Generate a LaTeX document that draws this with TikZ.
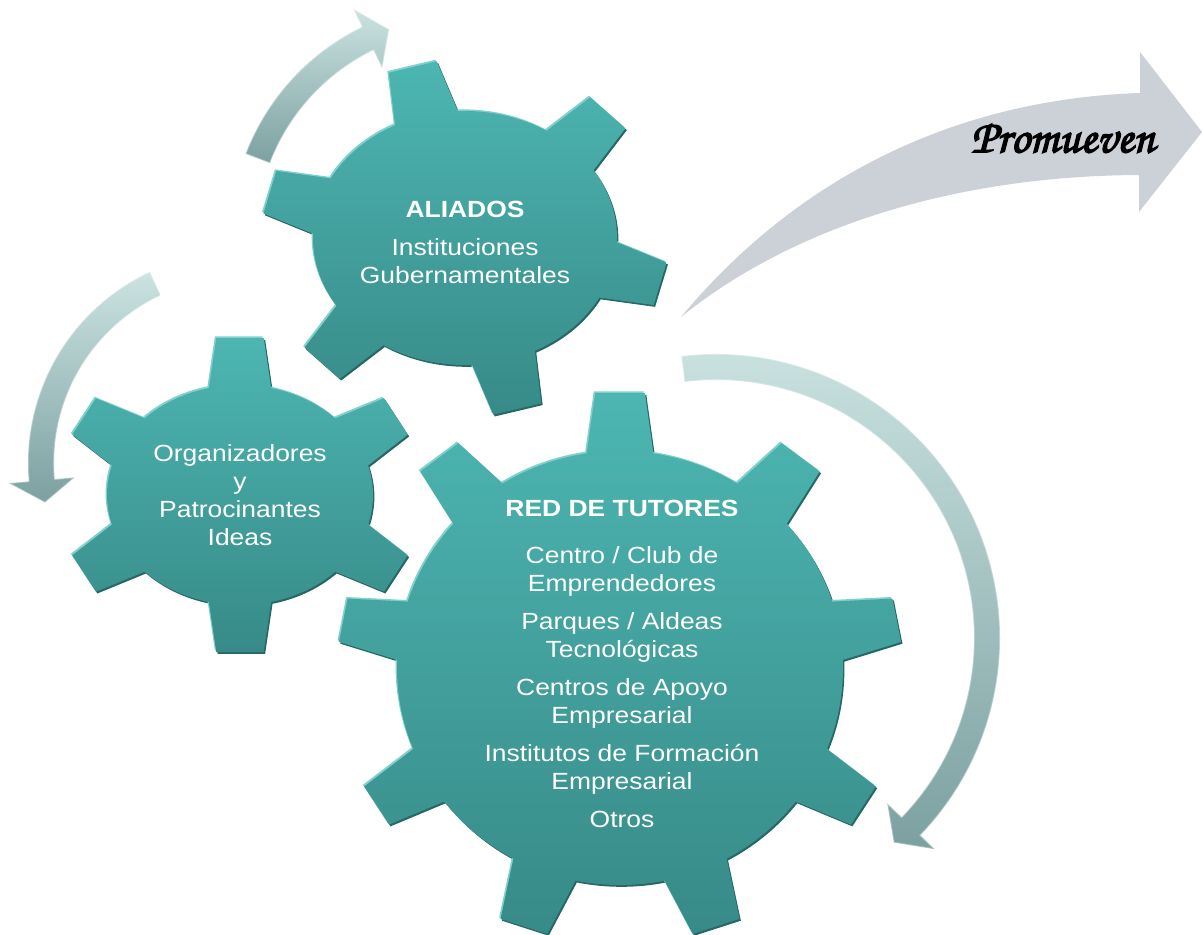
\documentclass[tikz,border=0pt]{standalone}
\usepackage{fontspec}
\setmainfont{Liberation Sans}[FakeStretch=1.13]
\usepackage{tikz}
\usetikzlibrary{calc,positioning}
\definecolor{gearlight}{RGB}{77,182,178}
\definecolor{geardark}{RGB}{55,138,135}
\definecolor{gearrim}{RGB}{128,208,204}
\definecolor{gearshadow}{RGB}{38,104,102}
\definecolor{arrowlight}{RGB}{203,227,225}
\definecolor{arrowdark}{RGB}{124,160,160}
\definecolor{promgray}{RGB}{204,209,215}
\newcommand{\brushfont}{\fontencoding{OT1}\fontfamily{pzc}\fontseries{mb}\fontshape{it}\selectfont}
\tikzset{
	gear/.style={top color=gearlight, bottom color=geardark},
	gear rim/.style={fill=gearrim},
	gear shadow/.style={fill=gearshadow},
	gear text/.style={text=white, align=center, inner sep=0pt, anchor=north,
		font=\fontsize{11.7}{14}\selectfont},
	bent arrow/.style={top color=arrowlight, bottom color=arrowdark,
		draw=white, draw opacity=.35, line width=.8},
	shaft/.store in=\shaftw,
	shaft=13,
	head/.store in=\headw,
	head=33,
	tooth inset/.store in=\toothin,
	tooth inset=14
}
% #1 centre, #2 #3 radii of the body, #4 teeth, #5 first tooth, #6 tooth length, #7 #8 half widths (tip, base), #9 style
\newcommand{\gearpath}[9]{%
	\path[#9] (#1) ellipse[x radius=#2, y radius=#3]
		foreach \i [evaluate=\i as \a using {#5+(\i-1)*360/#4}] in {1,...,#4} {
			($(#1)+(\a:#2 and #3)+(\a:-\toothin)+(\a-90:{1.13*#8} and #8)$)
			-- ($(#1)+(\a:#2 and #3)+(\a:#6)+(\a-90:{1.13*#7} and #7)$)
			-- ($(#1)+(\a:#2 and #3)+(\a:#6)+(\a+90:{1.13*#7} and #7)$)
			-- ($(#1)+(\a:#2 and #3)+(\a:-\toothin)+(\a+90:{1.13*#8} and #8)$) -- cycle
		};}
\newcommand{\drawgear}[8]{%
	\coordinate (#1 hi) at ($(#1)+(-1.4,1.6)$);
	\coordinate (#1 lo) at ($(#1)+(1.4,-1.8)$);
	\gearpath{#1 lo}{#2}{#3}{#4}{#5}{#6}{#7}{#8}{gear shadow}
	\gearpath{#1 hi}{#2}{#3}{#4}{#5}{#6}{#7}{#8}{gear rim}
	\gearpath{#1}{#2}{#3}{#4}{#5}{#6}{#7}{#8}{gear}}
% #1 centre, #2 radius, #3 start, #4 start of the head, #5 tip
\newcommand{\bentarrow}[5]{%
	\shade[bent arrow] ($(#1)+(#3:{#2+\shaftw})$) arc[start angle=#3, end angle=#4, radius=#2+\shaftw]
		-- ($(#1)+(#4:{#2+\headw})$) -- ($(#1)+(#5:#2)$) -- ($(#1)+(#4:{#2-\headw})$)
		-- ($(#1)+(#4:{#2-\shaftw})$) arc[start angle=#4, end angle=#3, radius=#2-\shaftw] -- cycle;}

\begin{document}
\begin{tikzpicture}[x=0.5pt, y=0.5pt]
   \useasboundingbox (0,0) rectangle (1202,934);
   \coordinate (ali) at (465,696);
   \coordinate (org) at (240,439);
   \coordinate (red) at (620,266);
   \coordinate (org arc) at (239,471);
   \coordinate (red arc) at (716,296);

   \fill[promgray] (681,617) .. controls (800,760) and (960,835) .. (1140,841) -- (1140,882)
      -- (1202,802) -- (1139,722) -- (1139,759) .. controls (950,758) and (790,705) .. (681,617) -- cycle;
   \node (promueven) at (1063,796) {\brushfont\fontsize{23.5}{26}\selectfont
      \special{pdf:literal direct 2 Tr 0.7 w}Promueven\special{pdf:literal direct 0 Tr}};

   \drawgear{ali}{152}{127}{6}{105}{50}{22}{30}
   \drawgear{org}{133}{110}{6}{90}{47}{21}{29}
   \drawgear{red}{223}{217}{9}{90}{58}{22}{31}

   \node[gear text] (aliados) at (465,733) {\textbf{ALIADOS}\\[5pt]Instituciones\\Gubernamentales};
   \node[gear text] (organizadores) at (240,490) {Organizadores\\y\\Patrocinantes\\Ideas};
   \node[gear text] (tutores) at (622,434) {\textbf{RED DE TUTORES}\\[9.5pt]Centro / Club de\\Emprendedores\\[5pt]%
      Parques / Aldeas\\Tecnológicas\\[5pt]Centros de Apoyo\\Empresarial\\[5pt]%
      Institutos de Formación\\Empresarial\\[5pt]Otros};

   \bentarrow{ali}{222}{159}{116}{110}
   \bentarrow{org arc}{198}{115}{185}{191.5}
   \bentarrow{red arc}{271}{97}{-44}{-49}
\end{tikzpicture}
\end{document}
